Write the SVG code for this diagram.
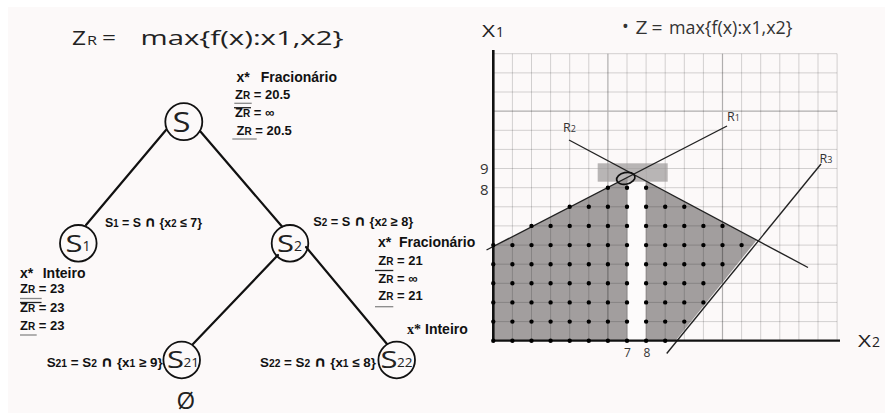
<svg xmlns="http://www.w3.org/2000/svg" width="885" height="416" viewBox="0 0 885 416">
<defs>
<style>
.b{font-family:"Liberation Sans",Arial,sans-serif;font-weight:bold;fill:#111}
.f14{font-size:14px}
.f13{font-size:13px}
.sub{font-size:10px}
.cap{font-family:"DejaVu Sans",sans-serif;font-weight:bold;font-size:15px}
.os{font-family:"Open Sans","Liberation Sans",sans-serif;fill:#222}
.edge{stroke:#111;stroke-width:2.2;fill:none;stroke-linecap:round}
.node{fill:none;stroke:#111;stroke-width:1.8}
.ul{stroke:#888;stroke-width:1.3}
.ol{stroke:#222;stroke-width:1.3}
.grid{stroke:#000;stroke-opacity:0.17;stroke-width:1;fill:none}
.gridd{stroke:#000;stroke-opacity:0.3;stroke-width:1.2;fill:none}
.rline{stroke:#222;stroke-width:1.4;fill:none}
.dots{stroke:#000;stroke-width:4.4;stroke-linecap:round;stroke-dasharray:0 19.1;fill:none}
.lab{font-family:"Open Sans","Liberation Sans",sans-serif;fill:#333}
</style>
</defs>
<rect width="885" height="416" fill="#ffffff"/>
<rect x="8" y="7" width="877" height="406" fill="#fcf9f9"/>

<g id="title-left" class="os">
<text x="72" y="45" font-size="20" textLength="14" lengthAdjust="spacingAndGlyphs">Z</text>
<text x="87" y="45" font-size="12" textLength="10" lengthAdjust="spacingAndGlyphs">R</text>
<text x="102" y="45" font-size="20" textLength="14" lengthAdjust="spacingAndGlyphs">=</text>
<text x="140.5" y="45" font-size="20" textLength="203" lengthAdjust="spacingAndGlyphs">max{f(x):x1,x2}</text>
</g>

<g id="connectors">
<path class="edge" d="M166 130L86 225"/>
<path class="edge" d="M200 131L282 226.5"/>
<path class="edge" d="M278 255L193 344"/>
<path class="edge" d="M306 247L387 344"/>
</g>

<g id="node-S">
<circle class="node" cx="183.8" cy="121.7" r="18.5"/>
<text class="os" x="172.5" y="131.5" font-size="27" textLength="18" lengthAdjust="spacingAndGlyphs">S</text>
</g>
<g id="node-S1">
<circle class="node" cx="78.3" cy="243.3" r="18.3"/>
<text class="os" x="65.5" y="251.5" font-size="23" textLength="17" lengthAdjust="spacingAndGlyphs">S</text>
<text class="os" x="82.5" y="251" font-size="14">1</text>
</g>
<g id="node-S2">
<circle class="node" cx="290" cy="243.3" r="18.3"/>
<text class="os" x="277" y="251.5" font-size="23" textLength="17" lengthAdjust="spacingAndGlyphs">S</text>
<text class="os" x="294" y="251" font-size="14">2</text>
</g>
<g id="node-S21">
<circle class="node" cx="181.7" cy="360" r="18.3"/>
<text class="os" x="167" y="367.5" font-size="23" textLength="17" lengthAdjust="spacingAndGlyphs">S</text>
<text class="os" x="183.5" y="367" font-size="13" textLength="15.5" lengthAdjust="spacingAndGlyphs">21</text>
</g>
<g id="node-S22">
<circle class="node" cx="396.7" cy="360" r="18.3"/>
<text class="os" x="380.5" y="367.5" font-size="23" textLength="17" lengthAdjust="spacingAndGlyphs">S</text>
<text class="os" x="397" y="367" font-size="13" textLength="15.5" lengthAdjust="spacingAndGlyphs">22</text>
</g>

<g id="info-S">
<text class="b f14" x="236.5" y="81.7">x*<tspan x="260.7">Fracionário</tspan></text>
<text class="b f13" x="235" y="99">Z<tspan class="sub">R</tspan> = 20.5</text>
<text class="b f13" x="235" y="116.7">Z<tspan class="sub">R</tspan> = ∞</text>
<text class="b f13" x="236.5" y="135">Z<tspan class="sub">R</tspan> = 20.5</text>
<line class="ul" x1="234.3" y1="103.3" x2="251.7" y2="103.3"/>
<line class="ol" x1="234" y1="107.7" x2="251" y2="107.7"/>
<line class="ul" x1="232.3" y1="139" x2="256.7" y2="139"/>
</g>

<g id="info-S1">
<text class="b f14" x="20" y="278.3">x*<tspan x="42.7">Inteiro</tspan></text>
<text class="b f13" x="20" y="293.3">Z<tspan class="sub">R</tspan> = 23</text>
<text class="b f13" x="20" y="311.7">Z<tspan class="sub">R</tspan> = 23</text>
<text class="b f13" x="20" y="330">Z<tspan class="sub">R</tspan> = 23</text>
<line class="ul" x1="20" y1="298.5" x2="41.7" y2="298.5"/>
<line class="ol" x1="20" y1="302.5" x2="41.5" y2="302.5"/>
<line class="ul" x1="20" y1="335" x2="36.7" y2="335"/>
</g>

<g id="info-S2">
<text class="b f14" x="378" y="246.7">x*<tspan x="399">Fracionário</tspan></text>
<text class="b f13" x="378.3" y="265">Z<tspan class="sub">R</tspan> = 21</text>
<text class="b f13" x="378.3" y="283.3">Z<tspan class="sub">R</tspan> = ∞</text>
<text class="b f13" x="378.3" y="300">Z<tspan class="sub">R</tspan> = 21</text>
<line class="ol" x1="375" y1="270.5" x2="393.3" y2="270.5"/>
<line class="ul" x1="375" y1="306.7" x2="393.3" y2="306.7"/>
</g>

<g id="info-S22">
<text class="b f14" x="407" y="334"><tspan font-family="Liberation Serif">x*</tspan><tspan x="425">Inteiro</tspan></text>
</g>

<g id="edge-labels">
<text class="b f13" x="105" y="227" textLength="97" lengthAdjust="spacingAndGlyphs">S<tspan class="sub">1</tspan> = S <tspan class="cap">∩</tspan> {x<tspan class="sub">2</tspan>  ≤ 7}</text>
<text class="b f13" x="313.3" y="226" textLength="100" lengthAdjust="spacingAndGlyphs">S<tspan class="sub">2</tspan> = S <tspan class="cap">∩</tspan> {x<tspan class="sub">2</tspan> ≥ 8}</text>
<text class="b f13" x="46.7" y="366.7" textLength="116" lengthAdjust="spacingAndGlyphs">S<tspan class="sub">21</tspan> = S<tspan class="sub">2</tspan> <tspan class="cap">∩</tspan>  {x<tspan class="sub">1</tspan> ≥  9}</text>
<text class="b f13" x="260" y="366.7" textLength="116" lengthAdjust="spacingAndGlyphs">S<tspan class="sub">22</tspan> = S<tspan class="sub">2</tspan> <tspan class="cap">∩</tspan>  {x<tspan class="sub">1</tspan> ≤ 8}</text>
</g>

<g id="empty-set">
<text class="os" x="185.8" y="409" font-size="24" text-anchor="middle">Ø</text>
</g>

<g id="chart">
<polygon points="493.3,246.7 633.3,174.3 756.5,240.3 675.5,340.7 493.3,340.7" fill="#a29e9e"/>
<path class="grid" d="M512.4 53.7V340.7M531.5 53.7V340.7M550.6 53.7V340.7M569.7 53.7V340.7M588.8 53.7V340.7M627 53.7V340.7M646.1 53.7V340.7M665.2 53.7V340.7M684.3 53.7V340.7M703.4 53.7V340.7M741.6 53.7V340.7M760.7 53.7V340.7M779.8 53.7V340.7M798.9 53.7V340.7M818 53.7V340.7M837.1 53.7V340.7M493.3 321.6H837.1M493.3 302.4H837.1M493.3 283.3H837.1M493.3 264.2H837.1M493.3 245.1H837.1M493.3 225.9H837.1M493.3 206.8H837.1M493.3 187.7H837.1M493.3 168.5H837.1M493.3 149.4H837.1M493.3 130.3H837.1M493.3 92H837.1M493.3 72.9H837.1M493.3 53.7H837.1"/>
<path class="gridd" d="M607.9 53.7V340.7M722.5 53.7V340.7M493.3 111.1H837.1"/>
<rect x="627.6" y="172" width="18" height="168.7" fill="#fdfbfb"/>
<rect x="597.7" y="163.3" width="70" height="18.4" fill="#9e9a9a" fill-opacity="0.72"/>
<path class="rline" d="M486.5 250L727 126"/>
<path class="rline" d="M569 140L808 267.5"/>
<path class="rline" d="M666.7 353.5L821 164"/>
<path d="M493.3 50V342" stroke="#111" stroke-width="2.6" fill="none"/>
<path d="M492 340.7H840" stroke="#111" stroke-width="2.2" fill="none"/>
<path class="dots" d="M493.3 340.7H665.7M493.3 321.6H684.8M493.3 302.4H703.9M493.3 283.3H703.9M493.3 264.2H723M493.3 245.1H742.1M531.5 225.9H723M569.7 206.8H684.8M607.9 187.7H646.6"/>
<ellipse cx="625.8" cy="178.3" rx="9.3" ry="5.8" transform="rotate(-12 625.8 178.3)" fill="none" stroke="#111" stroke-width="1.7"/>
<text class="lab" x="480" y="173.5" font-size="15">9</text>
<text class="lab" x="480" y="195" font-size="15">8</text>
<text class="lab" x="627.5" y="357" font-size="12" text-anchor="middle">7</text>
<text class="lab" x="647" y="357" font-size="12" text-anchor="middle">8</text>
<text class="lab" x="727" y="120.7" font-size="12.5">R<tspan font-size="9">1</tspan></text>
<text class="lab" x="563" y="131.7" font-size="12.5">R<tspan font-size="9">2</tspan></text>
<text class="lab" x="819.5" y="163.3" font-size="12.5">R<tspan font-size="9">3</tspan></text>
<text class="os" x="482" y="37" font-size="17" textLength="13" lengthAdjust="spacingAndGlyphs">X</text>
<text class="os" x="496" y="37" font-size="14">1</text>
<text class="os" x="858" y="346.7" font-size="17" textLength="13" lengthAdjust="spacingAndGlyphs">X</text>
<text class="os" x="872" y="346.7" font-size="14">2</text>
</g>

<g id="title-right" class="lab">
<text x="622" y="32.5" font-size="18">•</text>
<text x="635.5" y="34.3" font-size="17.5" textLength="12" lengthAdjust="spacingAndGlyphs">Z</text>
<text x="651.5" y="34.3" font-size="17.5" textLength="11" lengthAdjust="spacingAndGlyphs">=</text>
<text x="669" y="34.3" font-size="17.5" textLength="123.5" lengthAdjust="spacingAndGlyphs">max{f(x):x1,x2}</text>
</g>
</svg>
